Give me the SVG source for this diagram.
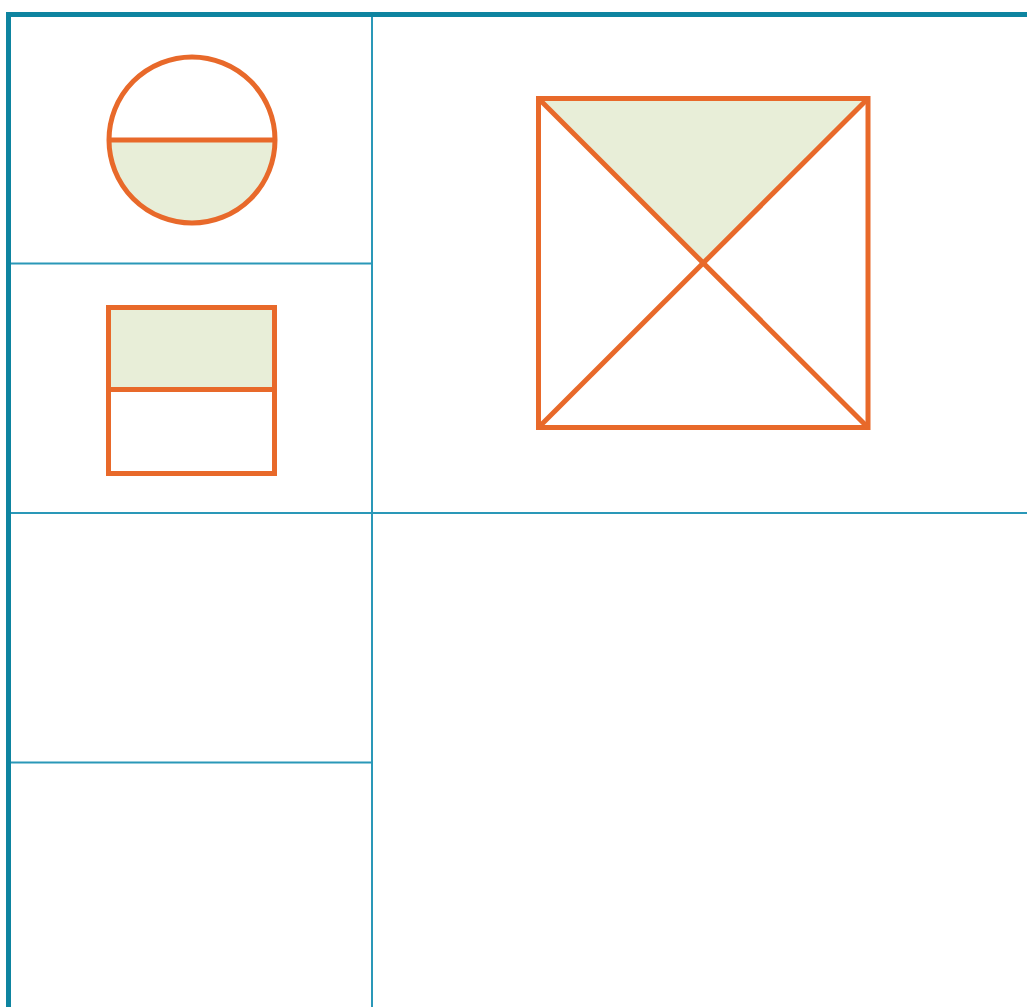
<svg xmlns="http://www.w3.org/2000/svg" width="1027" height="1007" viewBox="0 0 1027 1007">
<style>
.grid{stroke:#2a98b8;stroke-width:2;fill:none}
.frame{stroke:#0e84a0;stroke-width:5;fill:none}
.shape{stroke:#e8692a;stroke-width:5;fill:none;stroke-linejoin:miter}
.fill{fill:#e8eed8;stroke:none}
</style>
<rect width="1027" height="1007" fill="#ffffff"/>
<g id="connectors">
<line class="grid" x1="372" y1="14" x2="372" y2="1007"/>
<line class="grid" x1="8" y1="263.5" x2="372" y2="263.5"/>
<line class="grid" x1="8" y1="513" x2="1027" y2="513"/>
<line class="grid" x1="8" y1="762.5" x2="372" y2="762.5"/>
<polyline class="frame" points="8.5,1007 8.5,14.5 1027,14.5"/>
</g>
<g id="circle-half">
<path class="fill" d="M109,140 A83,83 0 0 0 275,140 Z"/>
<circle class="shape" cx="192" cy="140" r="83"/>
<line class="shape" x1="109" y1="140" x2="275" y2="140"/>
</g>
<g id="rect-half">
<rect class="fill" x="108.5" y="307.5" width="166" height="82"/>
<rect class="shape" x="108.5" y="307.5" width="166" height="166"/>
<line class="shape" x1="108.5" y1="389.5" x2="274.5" y2="389.5"/>
</g>
<g id="square-quarter">
<polygon class="fill" points="538.5,98.5 868,98.5 703.25,263"/>
<rect class="shape" x="538.5" y="98.5" width="329.5" height="329"/>
<line class="shape" x1="538.5" y1="98.5" x2="868" y2="427.5"/>
<line class="shape" x1="868" y1="98.5" x2="538.5" y2="427.5"/>
</g>
</svg>
